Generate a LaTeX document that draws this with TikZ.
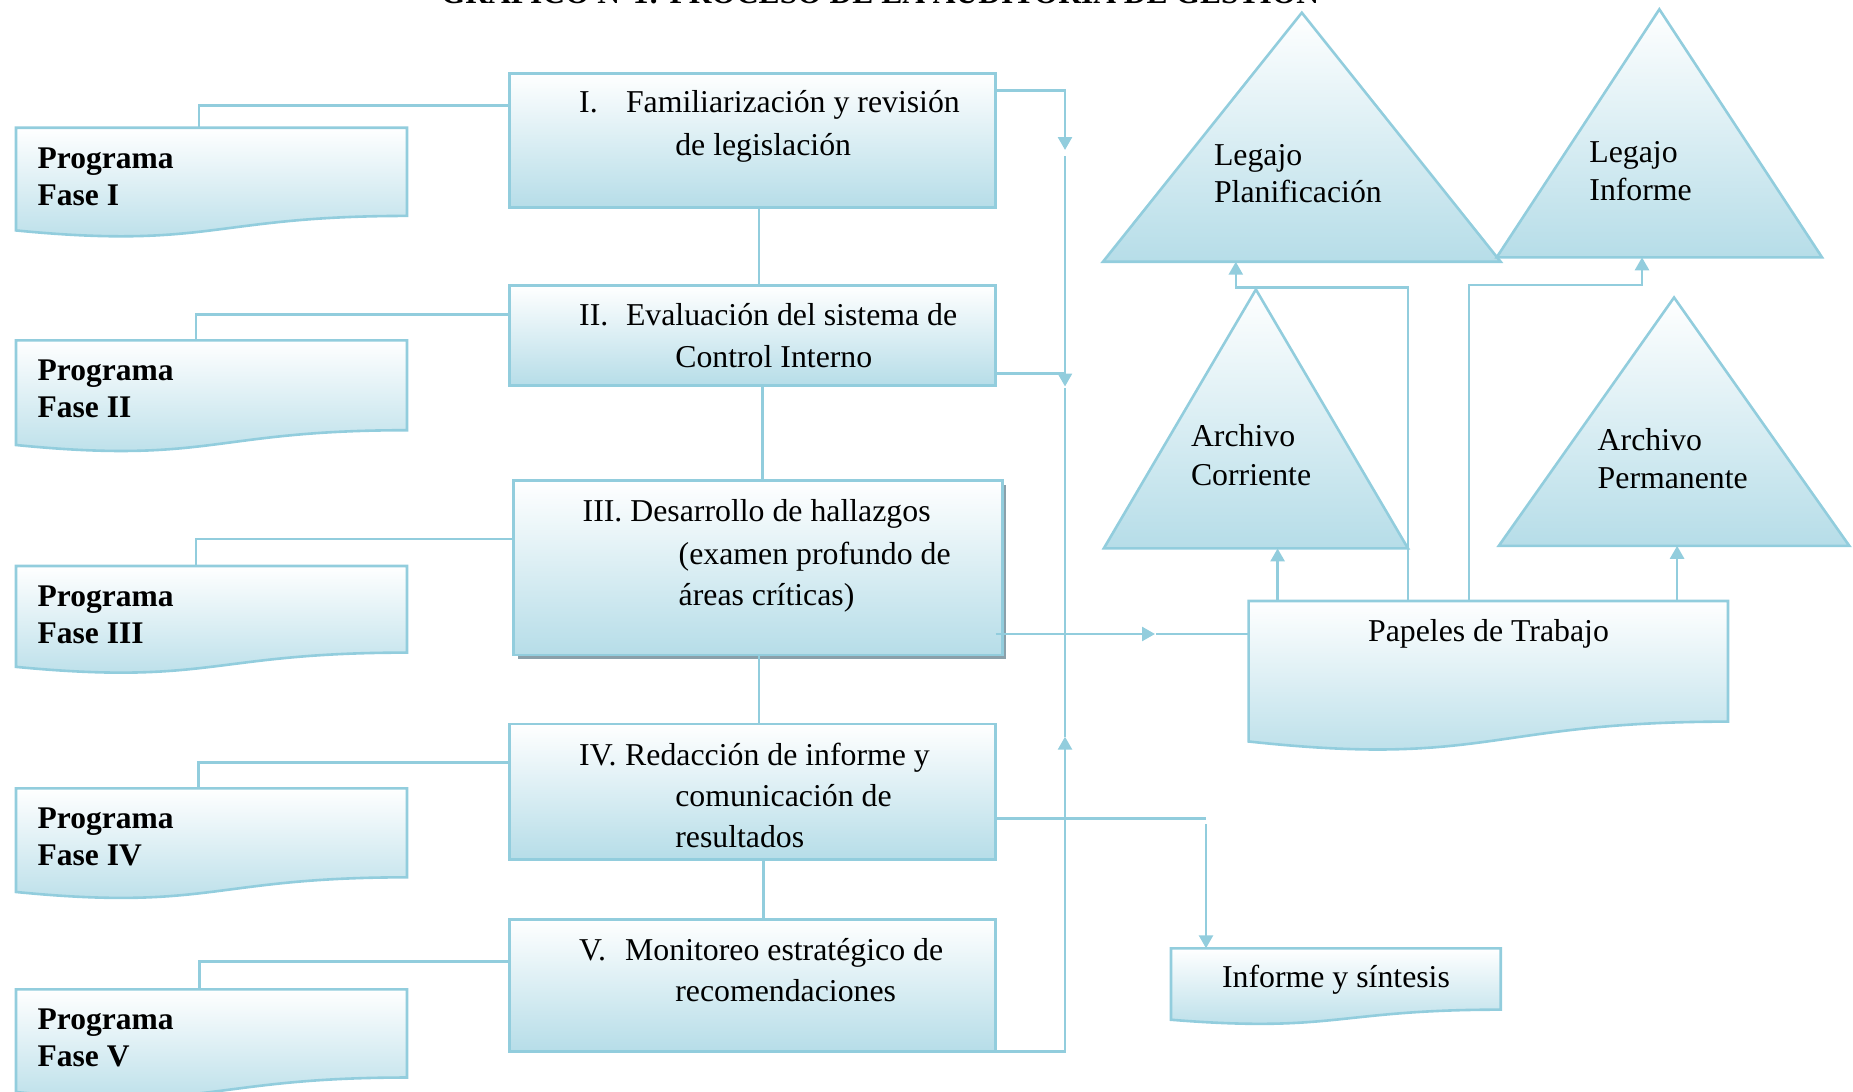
\documentclass[tikz,border=0pt]{standalone}
\usepackage{fontspec}
\setmainfont{Liberation Serif}
\usetikzlibrary{arrows.meta,calc,shadows}
\definecolor{lineblue}{RGB}{146,205,221}
\definecolor{fillblue}{RGB}{182,221,232}
\definecolor{shadowgray}{RGB}{138,160,170}
\newcommand\docshape[5]{%
  \node[anchor=north west, minimum width=#4pt, minimum height=#5pt, inner sep=0pt, outer sep=0pt] (#1) at (#2,#3) {};
  \path[shadedfill] (#1.north west) -- (#1.north east) -- ($(#1.north east)+(0,0.802*#5)$)
    .. controls ($(#1.north east)+(-0.5*#4,0.802*#5)$) and ($(#1.north east)+(-0.5*#4,1.1075*#5)$) .. ($(#1.north west)+(0,0.934*#5)$) -- cycle;}
\newcommand\triangshape[5]{%
  \node[anchor=north west, minimum width=#4pt, minimum height=#5pt, inner sep=0pt, outer sep=0pt] (#1) at (#2,#3) {};
  \path[shadedfill] (#1.south west) -- (#1.north) -- (#1.south east) -- cycle;}
\begin{document}
\begin{tikzpicture}[x=1pt,y=-1pt,
  every node/.style={font=\fontsize{31.8}{38}\selectfont, inner sep=0pt, outer sep=0pt},
  shadedfill/.style={draw=lineblue, line width=2.6pt, top color=white, bottom color=fillblue},
  procbox/.style={shadedfill, anchor=north west},
  txt/.style={anchor=base west},
  btxt/.style={anchor=base west, font=\fontsize{31.5}{38}\selectfont\bfseries},
  conn/.style={draw=lineblue, line width=2.6pt},
  arr/.style={-{Triangle[length=13pt,width=14pt]}}
]
\useasboundingbox (0,0) rectangle (1853,1092);

% title (cut by the page top)
\node[anchor=base, font=\fontsize{31.5}{38}\selectfont\bfseries] (title) at (880,4) {GRÁFICO N°1: PROCESO DE LA AUDITORÍA DE GESTIÓN};

% program documents
\docshape{f1}{16}{127.7}{391}{110}
\docshape{f2}{16}{340.4}{391}{112}
\docshape{f3}{16}{566}{391}{108}
\docshape{f4}{16}{788.3}{391}{111}
\docshape{f5}{16}{989.3}{391}{110}
\node[btxt] (f1a) at ($(f1.north west)+(21.7,40.5)$) {Programa};
\node[btxt] (f1b) at ($(f1.north west)+(21.7,77.4)$) {Fase I};
\node[btxt] (f2a) at ($(f2.north west)+(21.7,40.5)$) {Programa};
\node[btxt] (f2b) at ($(f2.north west)+(21.7,77.4)$) {Fase II};
\node[btxt] (f3a) at ($(f3.north west)+(21.7,40.5)$) {Programa};
\node[btxt] (f3b) at ($(f3.north west)+(21.7,77.4)$) {Fase III};
\node[btxt] (f4a) at ($(f4.north west)+(21.7,40.5)$) {Programa};
\node[btxt] (f4b) at ($(f4.north west)+(21.7,77.4)$) {Fase IV};
\node[btxt] (f5a) at ($(f5.north west)+(21.7,40.5)$) {Programa};
\node[btxt] (f5b) at ($(f5.north west)+(21.7,77.4)$) {Fase V};

% process boxes
\node[procbox, minimum width=486pt, minimum height=134.4pt] (p1) at (509.6,73.3) {};
\node[procbox, minimum width=486pt, minimum height=100pt] (p2) at (509.6,285.7) {};
\node[procbox, minimum width=488.8pt, minimum height=174.3pt,
      drop shadow={shadow xshift=4pt, shadow yshift=-4pt, fill=shadowgray, opacity=1}] (p3) at (513.5,480.7) {};
\node[procbox, minimum width=486pt, minimum height=135.3pt] (p4) at (509.6,724) {};
\node[procbox, minimum width=486pt, minimum height=132.4pt] (p5) at (509.6,919.3) {};

\node[txt] (p1n) at (579.2,112.7) {I.};
\node[txt] (p1a) at (626,112.7) {Familiarización y revisión};
\node[txt] (p1b) at (675.3,155.7) {de legislación};
\node[txt] (p2n) at (579.2,325.7) {II.};
\node[txt] (p2a) at (626,325.7) {Evaluación del sistema de};
\node[txt] (p2b) at (675.3,367.3) {Control Interno};
\node[txt] (p3a) at (582.7,521.7) {III. Desarrollo de hallazgos};
\node[txt] (p3b) at (678.7,564) {(examen profundo de};
\node[txt] (p3c) at (678.7,605.5) {áreas críticas)};
\node[txt] (p4n) at (579.2,765) {IV.};
\node[txt] (p4a) at (625.2,765) {Redacción de informe y};
\node[txt] (p4b) at (675.3,806.7) {comunicación de};
\node[txt] (p4c) at (675.3,847.7) {resultados};
\node[txt] (p5n) at (579.2,960) {V.};
\node[txt] (p5a) at (625.2,960) {Monitoreo estratégico de};
\node[txt] (p5b) at (675.3,1001.7) {recomendaciones};

% right side documents
\docshape{pap}{1248.6}{601}{479.4}{150.4}
\docshape{inf}{1171}{948.3}{329.7}{76.5}
\node[anchor=base] (papt) at (1488.5,641.7) {Papeles de Trabajo};
\node[anchor=base] (inft) at (1336,987.3) {Informe y síntesis};

% triangles
\triangshape{lp}{1103}{12.7}{397.6}{249}
\triangshape{li}{1496.7}{9.3}{325.3}{248}
\triangshape{ac}{1103.8}{289.5}{304.2}{258.9}
\triangshape{ap}{1498.8}{297.5}{350.5}{248.3}
\node[txt] (lpa) at (1214,165.7) {Legajo};
\node[txt] (lpb) at (1214,202.3) {Planificación};
\node[txt] (lia) at (1589.4,162.3) {Legajo};
\node[txt] (lib) at (1589.4,200) {Informe};
\node[txt] (aca) at (1191,446.7) {Archivo};
\node[txt] (acb) at (1191,485) {Corriente};
\node[txt] (apa) at (1597.7,450) {Archivo};
\node[txt] (apb) at (1597.7,488.3) {Permanente};

% program -> process connectors
\draw[conn] ($(f1.north west)+(183,0)$) |- ($(p1.north west)+(0,32.4)$);
\draw[conn] ($(f2.north west)+(180,0)$) |- ($(p2.north west)+(0,28.7)$);
\draw[conn] ($(f3.north west)+(180,0)$) |- ($(p3.north west)+(0,58.2)$);
\draw[conn] ($(f4.north west)+(182.5,0)$) |- ($(p4.north west)+(0,38.3)$);
\draw[conn] ($(f5.north west)+(183.3,0)$) |- ($(p5.north west)+(0,42.4)$);

% process chain
\draw[conn] ($(p1.south west)+(249.4,0)$) -- ($(p2.north west)+(249.4,0)$);
\draw[conn] ($(p2.south west)+(253,0)$) -- ($(p3.north west)+(249.1,0)$);
\draw[conn] ($(p3.south west)+(245.5,0)$) -- ($(p4.north west)+(249.4,0)$);
\draw[conn] ($(p4.south west)+(253.8,0)$) -- ($(p5.north west)+(253.8,0)$);

% bus on the right of the process boxes
\coordinate (busA) at (1065,150);
\coordinate (busB) at (1065,156);
\coordinate (busC) at (1065,386.5);
\coordinate (busD) at (1065,388);
\coordinate (busE) at (1065,736.7);
\draw[conn,arr] ($(p1.north east)+(0,17.4)$) -| (busA);
\draw[conn,arr] (busB) -- (busC);
\draw[conn] ($(p2.north east)+(0,87.6)$) -- ($(p2.north east)+(69.4,87.6)$);
\draw[conn] (busD) -- (busE);
\draw[conn,arr] (p5.south east) -| (busE);

% III -> Papeles de Trabajo
\coordinate (m3) at (1155,634);
\draw[conn,arr] ($(p3.north east)+(-6.7,153.3)$) -- (m3);
\draw[conn] ($(m3)+(1,0)$) -- (pap.west |- m3);

% IV -> Informe y sintesis
\coordinate (m4) at (1206,818.3);
\draw[conn] ($(p4.north east)+(0,94.3)$) -- (m4);
\draw[conn,arr] ($(m4)+(0,6)$) -- (inf.north -| m4);

% Papeles -> files
\coordinate (s1) at ($(pap.north west)+(29,0)$);
\coordinate (s2) at ($(pap.north west)+(428.5,0)$);
\coordinate (s3) at ($(pap.north west)+(159.4,0)$);
\coordinate (s4) at ($(pap.north west)+(220.4,0)$);
\draw[conn,arr] (s1) -- (s1 |- ac.south);
\draw[conn,arr] (s2) -- (s2 |- ap.south);
\draw[conn,arr] (s3) -- ++(0,-313.7) -| ($(lp.south west)+(132.8,0)$);
\draw[conn,arr] (s4) -- ++(0,-316) -| ($(li.south west)+(145.3,0)$);
\end{tikzpicture}
\end{document}
